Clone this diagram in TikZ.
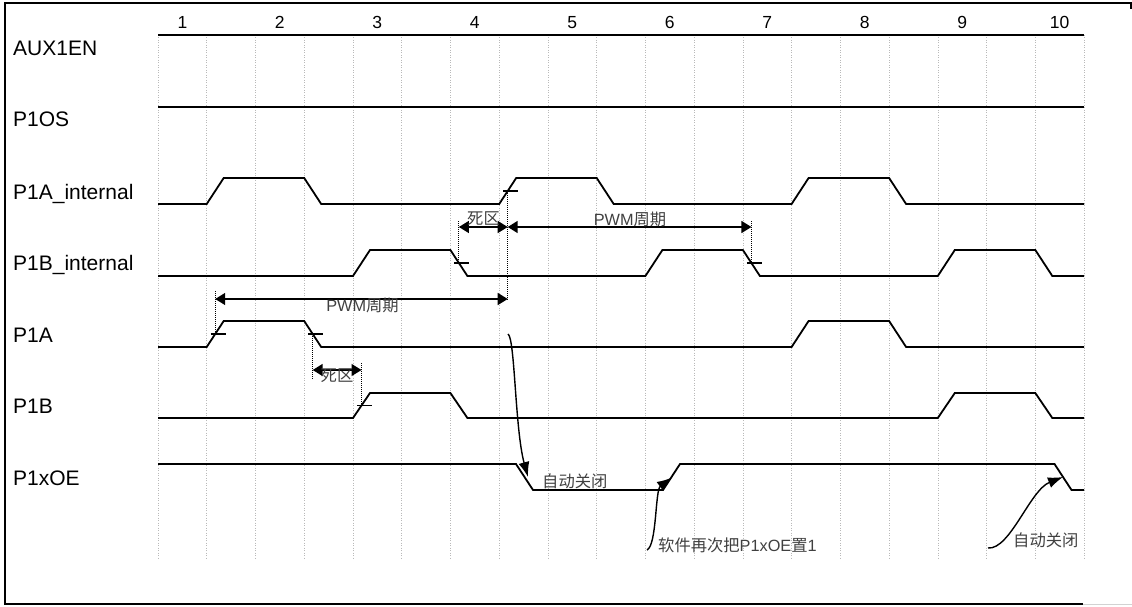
\documentclass[tikz,border=0pt]{standalone}
\usepackage{fontspec}
\setmainfont{Liberation Sans}
\newfontfamily\cjk{Noto Sans CJK SC}
\usetikzlibrary{arrows.meta}
\begin{document}
\begin{tikzpicture}[x=1pt,y=-1pt,
  sig/.style={line width=1.8pt, line join=miter},
  frameln/.style={line width=1.6pt},
  gridline/.style={gray!55, line width=0.7pt, dash pattern=on 1pt off 1.5pt},
  dotln/.style={black, line width=1pt, dash pattern=on 1pt off 1pt},
  tickmark/.style={line width=1.2pt},
  dimarrow/.style={line width=1.5pt, {Triangle[length=10pt,width=12pt]}-{Triangle[length=10pt,width=12pt]}},
  curv/.style={line width=1.4pt, -{Latex[length=15pt,width=11pt]}},
  rowlab/.style={anchor=base west, inner sep=0pt, font=\fontsize{21}{25}\selectfont},
  numlab/.style={anchor=base, inner sep=0pt, font=\fontsize{17.5}{21}\selectfont},
  note/.style={inner sep=0pt, text=black!75, font=\fontsize{16.3}{19}\selectfont},
]
\useasboundingbox (0,0) rectangle (1132,607);

% frame
\draw[frameln] (1131,9) -- (1131,3) -- (5,3) -- (5,604) -- (1083,604);
\draw[gray!35, line width=1pt] (1083,604) -- (1132,604);

% grid
\foreach \k in {0,...,19}
  \draw[gridline] ({158+48.74*\k},35) -- ({158+48.74*\k},560);

% cycle numbers
\foreach \n in {1,...,10}
  \node[numlab] (num\n) at ({158+48.74*(2*\n-1.5)},28.5) {\n};

% row labels
\node[rowlab] (lAUX) at (13,56) {AUX1EN};
\node[rowlab] (lOS)  at (13,126.7) {P1OS};
\node[rowlab] (lAi)  at (13,199.3) {P1A\_internal};
\node[rowlab] (lBi)  at (13,270) {P1B\_internal};
\node[rowlab] (lA)   at (13,342.3) {P1A};
\node[rowlab] (lB)   at (13,413) {P1B};
\node[rowlab] (lOE)  at (13,485) {P1xOE};

% waveforms
\draw[sig] (158,35) -- (1084,35);
\draw[sig] (158,107) -- (1084,107);
\draw[sig] (158,204) -- (206.7,204) -- (223.7,178) -- (304.2,178) -- (321.2,204)
  -- (499.2,204) -- (516.2,178) -- (596.7,178) -- (613.7,204)
  -- (791.6,204) -- (808.6,178) -- (889.1,178) -- (906.1,204) -- (1084,204);
\draw[sig] (158,276) -- (353,276) -- (370,250) -- (450.4,250) -- (467.4,276)
  -- (645.4,276) -- (662.4,250) -- (742.9,250) -- (759.9,276)
  -- (937.8,276) -- (954.8,250) -- (1035.3,250) -- (1052.3,276) -- (1084,276);
\draw[sig] (158,347) -- (206.7,347) -- (223.7,321) -- (304.2,321) -- (321.2,347)
  -- (791.6,347) -- (808.6,321) -- (889.1,321) -- (906.1,347) -- (1084,347);
\draw[sig] (158,418) -- (353,418) -- (370,393) -- (450.4,393) -- (467.4,418)
  -- (937.8,418) -- (954.8,393) -- (1035.3,393) -- (1052.3,418) -- (1084,418);
\draw[sig] (158,464) -- (516,464) -- (533,490) -- (663,490) -- (680,464)
  -- (1054.5,464) -- (1071.5,490) -- (1084,490);

% edge midpoints
\coordinate (t1) at (507.7,191);
\coordinate (t2) at (458.9,263);
\coordinate (t3) at (751.4,263);
\coordinate (t4) at (215.2,334);
\coordinate (t5) at (312.7,334);
\coordinate (t6) at (361.5,405.5);
\foreach \t in {t1,t2,t3,t4,t5,t6}
  \draw[tickmark] ([xshift=-4.5pt]\t) -- ([xshift=10.5pt]\t);

% dimension end points
\coordinate (a1) at (458.9,227);
\coordinate (a2) at (507.7,227);
\coordinate (a3) at (751.4,227);
\coordinate (b1) at (215.2,299);
\coordinate (b2) at (507.7,299);
\coordinate (c1) at (312.7,370);
\coordinate (c2) at (361.5,370);

% dotted extension lines
\draw[dotln] (t1) -- (507.7,300);
\draw[dotln] (458.9,221) -- (t2);
\draw[dotln] (751.4,221) -- (t3);
\draw[dotln] (215.2,291) -- (t4);
\draw[dotln] (t5) -- (312.7,379);
\draw[dotln] (361.5,363) -- (t6);

% dimension arrows
\draw[dimarrow] (a1) -- (a2);
\draw[dimarrow] (a2) -- (a3);
\draw[dimarrow] (b1) -- (b2);
\draw[dimarrow] (c1) -- (c2);

\node[note, anchor=base] (dz1) at (483.5,224) {\cjk 死区};
\node[note, anchor=base] (pw1) at (630,225) {PWM{\cjk 周期}};
\node[note, anchor=base] (pw2) at (362.5,311) {PWM{\cjk 周期}};
\node[note, anchor=base] (dz2) at (337,381.5) {\cjk 死区};

% curved arrows
\coordinate (s1) at (508,334);
\coordinate (e1) at (528,477);
\draw[curv] (s1) .. controls (515,338) and (515,430) .. (e1);
\coordinate (s2) at (647,550);
\coordinate (e2) at (672,477.5);
\draw[curv] (s2) .. controls (657,545) and (655,490) .. (e2);
\coordinate (s3) at (988,548);
\coordinate (e3) at (1063,477);
\draw[curv] (s3) .. controls (1010,550) and (1030,490) .. (e3);

\node[note, anchor=base west] (off1) at (542,487.5) {\cjk 自动关闭};
\node[note, anchor=base west] (sw) at (658,551.7) {{\cjk 软件再次把}P1xOE{\cjk 置}1};
\node[note, anchor=base west] (off2) at (1013,546.5) {\cjk 自动关闭};
\end{tikzpicture}
\end{document}
